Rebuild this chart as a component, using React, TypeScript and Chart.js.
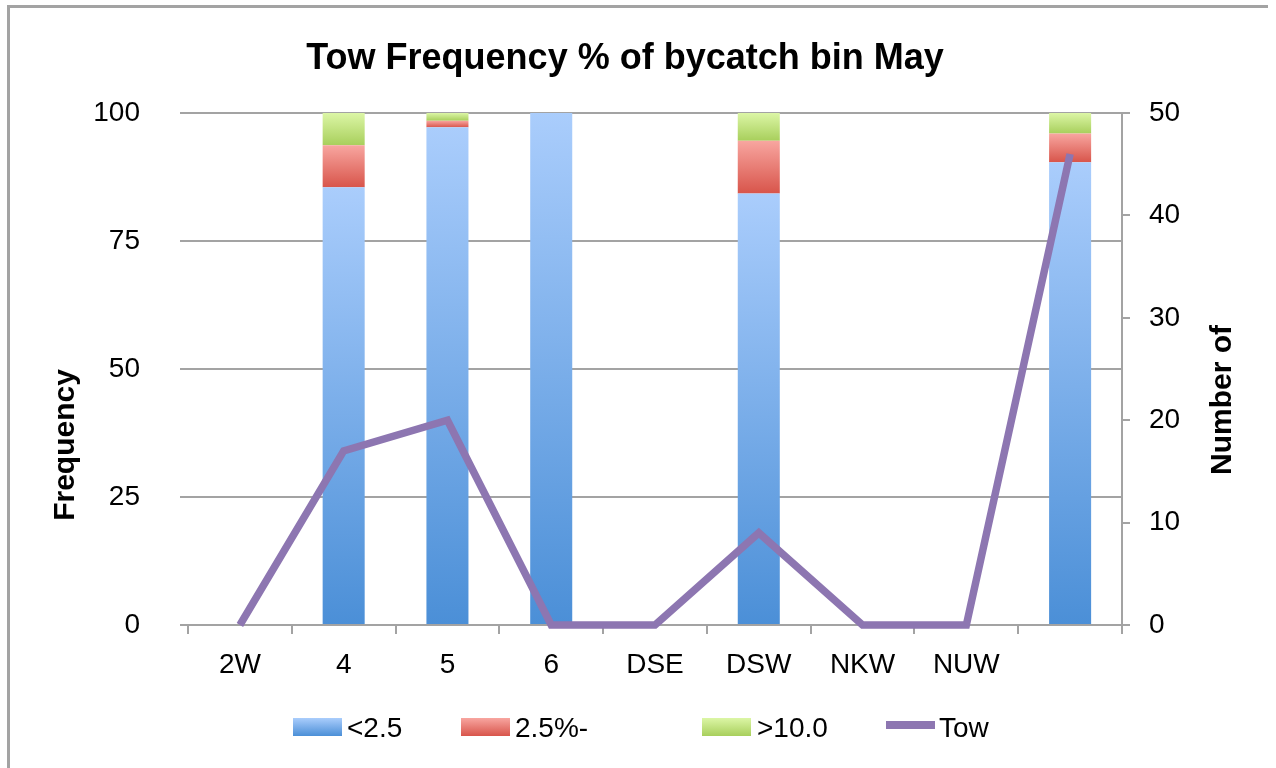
import React, { useEffect, useRef } from "react";
import { Chart, registerables } from "chart.js";

Chart.register(...registerables);

const categories = ["2W", "4", "5", "6", "DSE", "DSW", "NKW", "NUW", ""];
const lowBycatch = [0, 85.5, 97.2, 100, 0, 84.3, 0, 0, 90.4];
const midBycatch = [0, 8.2, 1.3, 0, 0, 10.3, 0, 0, 5.6];
const highBycatch = [0, 6.3, 1.5, 0, 0, 5.4, 0, 0, 4.0];
const towCounts = [0, 17, 20, 0, 0, 9, 0, 0, 46];
const seriesLabels = ["<2.5", "2.5%-", ">10.0", "Tow"];
const chartTitle = "Tow Frequency % of bycatch bin May";
const leftAxisTitle = "Frequency";
const rightAxisTitle = "Number of";

const FONT = "'Liberation Sans', Arial, sans-serif";
const GRAY = "#a3a3a3";
const barSeries = [lowBycatch, midBycatch, highBycatch];
const barColors = [
  { light: "#aacdfc", dark: "#4b8fd7" },
  { light: "#f8a6a0", dark: "#d8554b" },
  { light: "#dcf6a6", dark: "#a8cf5c" },
];
const lineColor = "#8d76b1";

function segmentGradient(idx: number) {
  const { light, dark } = barColors[idx];
  return (ctx: any) => {
    const chart = ctx.chart;
    const ys = chart.scales && chart.scales.y;
    if (!ys || ctx.type !== "data") return dark;
    const i = ctx.dataIndex;
    let base = 0;
    for (let k = 0; k < idx; k++) base += barSeries[k][i];
    const top = base + barSeries[idx][i];
    const p0 = ys.getPixelForValue(base);
    const p1 = ys.getPixelForValue(top);
    if (!isFinite(p0) || !isFinite(p1) || Math.abs(p0 - p1) < 0.5) return dark;
    const g = chart.ctx.createLinearGradient(0, p1, 0, p0);
    g.addColorStop(0, light);
    g.addColorStop(1, dark);
    return g;
  };
}

const decorPlugin = {
  id: "decor",
  beforeDraw(chart: any) {
    const c = chart.ctx;
    c.save();
    c.fillStyle = "#ffffff";
    c.fillRect(0, 0, chart.width, chart.height);
    c.strokeStyle = GRAY;
    c.lineWidth = 3;
    c.beginPath();
    c.moveTo(8.5, chart.height);
    c.lineTo(8.5, 6.5);
    c.lineTo(1268, 6.5);
    c.stroke();
    c.restore();
  },
  afterDraw(chart: any) {
    const c = chart.ctx;
    c.save();
    c.fillStyle = "#000";
    c.font = `bold 30px ${FONT}`;
    c.textAlign = "center";
    c.textBaseline = "middle";
    c.save();
    c.translate(66, 445);
    c.rotate(-Math.PI / 2);
    c.fillText(leftAxisTitle, 0, 0);
    c.restore();
    c.save();
    c.translate(1223, 400);
    c.rotate(-Math.PI / 2);
    c.fillText(rightAxisTitle, 0, 0);
    c.restore();

    const items = [
      { box: 293, text: 347 },
      { box: 461, text: 515 },
      { box: 702, text: 757 },
      { box: 886, text: 939 },
    ];
    const cy = 727;
    c.font = `28px ${FONT}`;
    c.textAlign = "left";
    items.forEach((it, k) => {
      if (k < 3) {
        const g = c.createLinearGradient(0, cy - 9, 0, cy + 9);
        g.addColorStop(0, barColors[k].light);
        g.addColorStop(1, barColors[k].dark);
        c.fillStyle = g;
        c.fillRect(it.box, cy - 9, 49, 18);
      } else {
        c.strokeStyle = lineColor;
        c.lineWidth = 8;
        c.beginPath();
        c.moveTo(it.box, cy - 2);
        c.lineTo(it.box + 49, cy - 2);
        c.stroke();
      }
      c.fillStyle = "#000";
      c.fillText(chart.data.datasets[k].label, it.text, cy + 2);
    });
    c.restore();
  },
};

export default function App() {
  const ref = useRef<HTMLCanvasElement>(null);
  useEffect(() => {
    if (!ref.current) return;
    const tickFont = { family: FONT, size: 28 };
    const chart = new Chart(ref.current, {
      type: "bar",
      data: {
        labels: categories,
        datasets: [
          { type: "bar", label: seriesLabels[0], data: lowBycatch, backgroundColor: segmentGradient(0), stack: "s", yAxisID: "y", order: 1, barPercentage: 0.405, categoryPercentage: 1 },
          { type: "bar", label: seriesLabels[1], data: midBycatch, backgroundColor: segmentGradient(1), stack: "s", yAxisID: "y", order: 1, barPercentage: 0.405, categoryPercentage: 1 },
          { type: "bar", label: seriesLabels[2], data: highBycatch, backgroundColor: segmentGradient(2), stack: "s", yAxisID: "y", order: 1, barPercentage: 0.405, categoryPercentage: 1 },
          { type: "line", label: seriesLabels[3], data: towCounts, borderColor: lineColor, backgroundColor: lineColor, borderWidth: 7.5, pointRadius: 0, tension: 0, yAxisID: "y1", order: 0, clip: false, borderJoinStyle: "miter", borderCapStyle: "butt" } as any,
        ],
      },
      options: {
        animation: false,
        responsive: false,
        events: [],
        layout: { padding: { left: 0, right: 26, top: 0, bottom: 0 } },
        plugins: {
          legend: { display: false },
          tooltip: { enabled: false },
          title: {
            display: true,
            text: chartTitle,
            color: "#000",
            font: { family: FONT, size: 36, weight: "bold" },
            padding: { top: 37.4, bottom: 32.4 },
          },
        },
        scales: {
          x: {
            stacked: true,
            offset: true,
            grid: { display: true, offset: true, drawOnChartArea: false, drawTicks: true, tickLength: 9, color: GRAY, lineWidth: 2 },
            border: { display: true, color: GRAY, width: 2 },
            ticks: { font: tickFont, color: "#000", padding: 14, maxRotation: 0, autoSkip: false },
            afterFit: (s: any) => { s.height = 143; },
          },
          y: {
            stacked: true,
            min: 0,
            max: 100,
            ticks: { stepSize: 25, padding: 40, font: tickFont, color: "#000" },
            grid: { color: GRAY, lineWidth: 2, drawTicks: true, tickLength: 8 },
            border: { display: false },
            afterFit: (s: any) => { s.width = 188; },
          },
          y1: {
            position: "right",
            min: 0,
            max: 50,
            ticks: { stepSize: 10, padding: 19, font: tickFont, color: "#000" },
            grid: { drawOnChartArea: false, color: GRAY, lineWidth: 2, drawTicks: true, tickLength: 8 },
            border: { display: true, color: GRAY, width: 2 },
            afterFit: (s: any) => { s.width = 128; },
          },
        },
      } as any,
      plugins: [decorPlugin],
    });
    return () => chart.destroy();
  }, []);
  return (
    <div style={{ position: "absolute", left: 0, top: 0, width: 1276, height: 768 }}>
      <canvas ref={ref} width={1276} height={768} style={{ display: "block" }} />
    </div>
  );
}
